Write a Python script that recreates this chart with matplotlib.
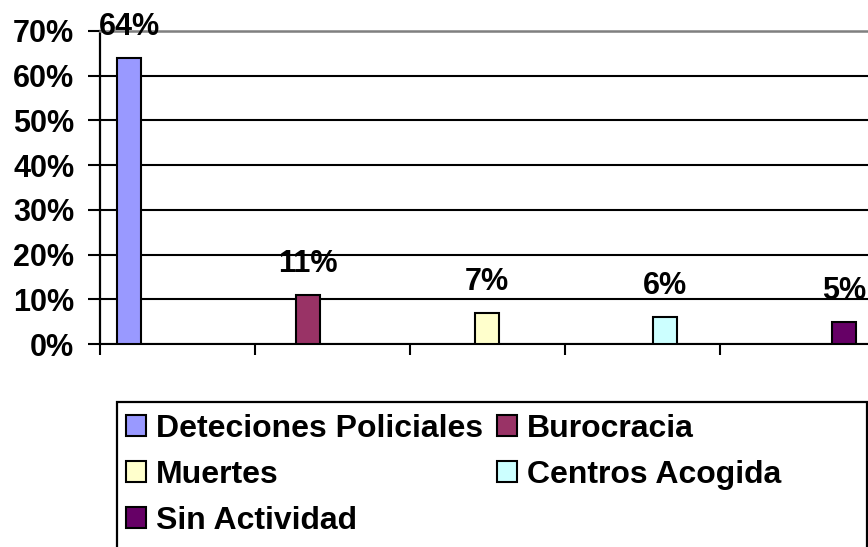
import numpy as np
import matplotlib
matplotlib.use("Agg")
import matplotlib.pyplot as plt
from matplotlib.ticker import PercentFormatter
from matplotlib.patches import Rectangle

categories = ["Deteciones Policiales", "Burocracia", "Muertes", "Centros Acogida", "Sin Actividad"]
values = [0.64, 0.11, 0.07, 0.06, 0.05]
colors = ["#9999FF", "#993366", "#FFFFCC", "#CCFFFF", "#660066"]
y_ticks = [0.0, 0.1, 0.2, 0.3, 0.4, 0.5, 0.6, 0.7]
x_ticks = [0, 1, 2, 3, 4, 5]

plt.rcParams['font.family'] = ['Liberation Sans', 'DejaVu Sans']
plt.rcParams['font.weight'] = 'bold'

W, H = 868, 547
fig = plt.figure(figsize=(W / 100, H / 100), dpi=100)
ax = fig.add_axes([100 / W, (H - 344) / H, 775 / W, 313 / H])
ax.set_xlim(0, 5)
ax.set_ylim(0, 0.7)

positions = 0.19 + 1.152 * np.arange(len(values))
bars = ax.bar(positions, values, width=0.155, color=colors,
              edgecolor='black', linewidth=1.5, zorder=3)

for b, v in zip(bars, values):
    ax.annotate(f"{round(v * 100)}%", xy=(b.get_x() + b.get_width() / 2, v),
                xytext=(0, 16.5), textcoords='offset points', ha='center',
                va='baseline', fontsize=22, fontweight='bold', zorder=5,
                annotation_clip=False)

ax.set_yticks(y_ticks)
ax.yaxis.set_major_formatter(PercentFormatter(1.0, decimals=0))
ax.set_xticks(x_ticks)
ax.set_xticklabels([])
ax.set_axisbelow(True)
ax.yaxis.grid(True, color='black', linewidth=1.5)
ax.tick_params(axis='y', length=8.6, width=1.5, pad=10, labelsize=22, direction='out')
ax.tick_params(axis='x', length=8, width=1.5, direction='out')
for lab in ax.get_yticklabels():
    lab.set_fontweight('bold')

ax.spines['right'].set_visible(False)
ax.spines['top'].set_color('#808080')
ax.spines['top'].set_linewidth(1.8)
ax.spines['left'].set_linewidth(1.6)
ax.spines['bottom'].set_linewidth(1.5)

order = [0, 2, 4, 1, 3]
leg = fig.legend([bars[i] for i in order], [categories[i] for i in order],
                 ncol=2, loc='upper left', bbox_to_anchor=(126 / W, 1 - 414 / H),
                 frameon=False, prop={'size': 23, 'weight': 'bold'},
                 handlelength=0.62, handleheight=0.62, handletextpad=0.31,
                 columnspacing=0.45, labelspacing=0.5, borderpad=0, borderaxespad=0)

fig.add_artist(Rectangle((117 / W, 1 - 552 / H), 750 / W, 150 / H,
                         transform=fig.transFigure, fill=False,
                         edgecolor='black', linewidth=1.6))

fig.savefig("out.png", dpi=100)
